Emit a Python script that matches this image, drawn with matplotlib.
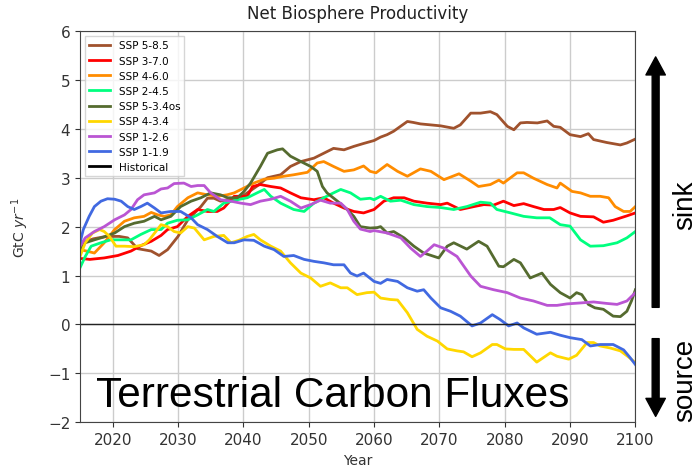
import numpy as np
import matplotlib.pyplot as plt

# scenario runs, read as (year, GtC/yr)
yr_585 = [2015, 2017, 2019, 2021, 2022.3, 2023.8, 2025.9, 2027.1, 2028.4, 2030, 2031.5, 2033.5,
          2034.5, 2035.5, 2036.5, 2037.5, 2039.6, 2040.6, 2042, 2043.7, 2045.7, 2047.2, 2048.8,
          2050.8, 2052.3, 2053.8, 2055.4, 2056.9, 2058.4, 2060, 2061, 2062, 2063, 2065.1, 2066,
          2067.1, 2070.2, 2072.2, 2073.2, 2074.8, 2076.3, 2077.8, 2078.8, 2080.4, 2081.4, 2082.4,
          2083.4, 2085, 2086.5, 2087.5, 2088.5, 2090, 2091.6, 2092.8, 2093.6, 2095.6, 2097.7,
          2098.7, 2100]
nbp_585 = [1.65, 1.75, 1.8, 1.8, 1.77, 1.55, 1.5, 1.41, 1.53, 1.8, 2.14, 2.41,
           2.58, 2.58, 2.52, 2.55, 2.6, 2.69, 2.82, 3.0, 3.06, 3.23, 3.33,
           3.4, 3.5, 3.6, 3.57, 3.64, 3.7, 3.76, 3.83, 3.88, 3.95, 4.15, 4.13,
           4.1, 4.06, 4.01, 4.08, 4.32, 4.32, 4.35, 4.29, 4.05, 3.98, 4.12,
           4.13, 4.12, 4.16, 4.05, 4.03, 3.88, 3.84, 3.9, 3.78, 3.72, 3.67,
           3.71, 3.79]

yr_370 = [2015, 2016.5, 2018.7, 2020.8, 2022.8, 2024.3, 2025.9, 2027.4, 2028.4, 2029.9, 2031.5,
          2033, 2034.5, 2036, 2037, 2038.6, 2040.6, 2041.4, 2042.6, 2044.2, 2045.7, 2047.2,
          2048.8, 2050.8, 2052.3, 2053.8, 2055.4, 2056.9, 2058.4, 2060, 2061.5, 2063, 2064.6,
          2066.1, 2068.1, 2070.2, 2071.2, 2073.2, 2075.3, 2076.8, 2078.3, 2079.8, 2081.4, 2082.9,
          2084.4, 2086, 2087.5, 2088.5, 2090, 2091.6, 2093.6, 2095.1, 2096.6, 2098.7, 2100]
nbp_370 = [1.35, 1.33, 1.36, 1.41, 1.5, 1.61, 1.7, 1.82, 1.94, 2.0, 2.21,
           2.35, 2.31, 2.31, 2.38, 2.62, 2.62, 2.82, 2.86, 2.82, 2.79, 2.69,
           2.59, 2.55, 2.59, 2.48, 2.38, 2.31, 2.28, 2.35, 2.52, 2.59, 2.59,
           2.52, 2.48, 2.45, 2.48, 2.35, 2.41, 2.45, 2.44, 2.52, 2.43, 2.47,
           2.41, 2.35, 2.35, 2.39, 2.28, 2.21, 2.2, 2.09, 2.13, 2.22, 2.28]

yr_460 = [2015, 2016, 2017.2, 2018.7, 2020.3, 2021.8, 2023.3, 2024.8, 2025.9, 2026.9, 2027.9,
          2028.9, 2029.9, 2031.5, 2033, 2034.5, 2036, 2037.5, 2038.6, 2040.1, 2041.6, 2043.2,
          2044.7, 2046.2, 2047.7, 2049.8, 2051.3, 2052.3, 2053.8, 2055.4, 2056.9, 2058.4,
          2059.4, 2060.3, 2062, 2063.6, 2065.1, 2067.1, 2068.7, 2070.7, 2073, 2074.8, 2076,
          2077.8, 2079.1, 2079.8, 2081.9, 2082.9, 2084.4, 2086.5, 2088, 2088.5, 2090.3, 2091.6,
          2093.1, 2094.6, 2095.9, 2096.9, 2098.2, 2099.2, 2100]
nbp_460 = [1.53, 1.5, 1.46, 1.67, 1.94, 2.11, 2.18, 2.21, 2.29, 2.24, 2.21,
           2.24, 2.41, 2.59, 2.69, 2.65, 2.62, 2.65, 2.69, 2.79, 2.89, 2.97,
           2.99, 3.03, 3.06, 3.11, 3.3, 3.33, 3.23, 3.13, 3.16, 3.24,
           3.13, 3.1, 3.27, 3.13, 3.03, 3.18, 3.13, 2.96, 3.08, 2.93, 2.82,
           2.86, 2.95, 2.89, 3.1, 3.1, 2.99, 2.86, 2.79, 2.89, 2.72, 2.69,
           2.62, 2.62, 2.59, 2.41, 2.31, 2.31, 2.41]

yr_245 = [2015, 2015.8, 2016.7, 2018.2, 2019.7, 2021.3, 2022.8, 2024.3, 2025.9, 2027.4, 2028.4,
          2029.9, 2031.5, 2033, 2034.5, 2035.5, 2037, 2039.1, 2040.6, 2042.1, 2043.2, 2044.2,
          2045.7, 2047.7, 2049.3, 2050.8, 2052.3, 2053.8, 2054.9, 2056.4, 2057.9, 2059.4, 2060,
          2061, 2062.5, 2064.1, 2066.1, 2068.1, 2070.2, 2072.2, 2074.2, 2076.3, 2077.8, 2078.8,
          2080.9, 2082.9, 2084.9, 2086.9, 2088.5, 2090, 2091.6, 2093.1, 2095.1, 2097.2, 2098.7,
          2100]
nbp_245 = [1.16, 1.39, 1.6, 1.67, 1.73, 1.73, 1.73, 1.84, 1.94, 1.94, 2.07,
           2.13, 2.14, 2.24, 2.35, 2.31, 2.48, 2.55, 2.59, 2.69, 2.76, 2.62,
           2.48, 2.35, 2.31, 2.48, 2.59, 2.69, 2.76, 2.69, 2.56, 2.58, 2.55,
           2.62, 2.52, 2.54, 2.45, 2.41, 2.39, 2.35, 2.41, 2.5, 2.48, 2.35,
           2.28, 2.21, 2.18, 2.18, 2.04, 2.01, 1.73, 1.6, 1.61, 1.67, 1.77,
           1.9]

yr_534os = [2015, 2015.8, 2017.2, 2018.7, 2020.3, 2021.8, 2023.3, 2024.8, 2026.4, 2027.4, 2028.9,
            2030.4, 2032, 2033.5, 2035, 2036.5, 2037.6, 2039.1, 2040.1, 2041.1, 2042.6, 2043.7,
            2045.2, 2046, 2047.2, 2048.8, 2050.3, 2051.3, 2052.1, 2052.8, 2054.4, 2055.9, 2056.9,
            2057.9, 2059.4, 2060.5, 2061, 2062, 2063, 2064.6, 2066.1, 2067.6, 2069.9, 2071.2,
            2072.2, 2074.2, 2076, 2077.3, 2079.1, 2079.8, 2081.4, 2082.4, 2083.9, 2085.7, 2087,
            2088.5, 2090, 2091, 2091.8, 2092.8, 2093.8, 2095.1, 2096.6, 2097.7, 2098.7, 2099.4,
            2100]
nbp_534os = [1.53, 1.67, 1.73, 1.79, 1.87, 2.0, 2.07, 2.11, 2.21, 2.14, 2.21,
             2.41, 2.52, 2.59, 2.69, 2.65, 2.59, 2.59, 2.72, 2.89, 3.23, 3.5,
             3.57, 3.59, 3.44, 3.33, 3.23, 3.13, 2.82, 2.69, 2.52, 2.35, 2.21,
             2.0, 1.97, 1.98, 2.0, 1.87, 1.9, 1.77, 1.6, 1.46, 1.36, 1.6,
             1.67, 1.54, 1.7, 1.6, 1.19, 1.18, 1.33, 1.26, 0.95, 1.05, 0.82,
             0.65, 0.54, 0.65, 0.61, 0.41, 0.34, 0.31, 0.17, 0.16, 0.27, 0.48,
             0.71]

yr_434 = [2015, 2015.8, 2016.9, 2018, 2018.7, 2019.5, 2020.5, 2021.8, 2023.3, 2024.8, 2025.6,
          2026.6, 2027.4, 2028.4, 2029.4, 2030.4, 2031.5, 2032.5, 2034, 2035.5, 2037, 2038.1,
          2039.3, 2040.6, 2041.6, 2042.6, 2044.2, 2045.7, 2047.2, 2048.8, 2050.3, 2051.8, 2053.3,
          2054.9, 2055.9, 2057.4, 2058.9, 2060, 2061, 2062.5, 2063.6, 2065.1, 2066.6, 2068.1,
          2069.7, 2071.2, 2072.7, 2073.7, 2075, 2076.3, 2078.1, 2078.8, 2080.1, 2081.4, 2082.9,
          2084.9, 2087, 2088, 2089.8, 2091, 2092.6, 2093.6, 2094.6, 2096.1, 2097.7, 2098.9, 2100]
nbp_434 = [1.39, 1.67, 1.87, 1.94, 1.9, 1.8, 1.6, 1.6, 1.59, 1.63, 1.73,
           1.9, 2.04, 2.0, 1.9, 1.87, 2.0, 1.97, 1.73, 1.8, 1.82, 1.67,
           1.72, 1.8, 1.84, 1.73, 1.6, 1.5, 1.26, 1.05, 0.95, 0.78, 0.85,
           0.75, 0.75, 0.61, 0.65, 0.66, 0.54, 0.51, 0.5, 0.24, -0.1, -0.24,
           -0.34, -0.5, -0.54, -0.56, -0.66, -0.58, -0.41, -0.41, -0.5, -0.51, -0.51,
           -0.77, -0.58, -0.65, -0.71, -0.63, -0.37, -0.37, -0.44, -0.48, -0.54, -0.66, -0.78]

yr_126 = [2015, 2015.8, 2017.2, 2018.7, 2020.3, 2021.8, 2022.8, 2023.8, 2024.8, 2026.4, 2027.4,
          2028.4, 2029.4, 2030.9, 2032, 2033, 2034, 2035, 2036.5, 2038.1, 2039.6, 2041.1,
          2042.6, 2044.2, 2045.7, 2047.2, 2048.8, 2050.3, 2051.8, 2053.3, 2054.9, 2055.9, 2056.9,
          2057.9, 2059.4, 2060, 2062, 2064.1, 2065.6, 2067.1, 2068.1, 2069.2, 2070.7, 2072.7,
          2074.8, 2076.3, 2078.3, 2080.4, 2082.4, 2084.4, 2086.5, 2088, 2089.5, 2091.6, 2093.6,
          2095.6, 2097.2, 2098.7, 2100]
nbp_126 = [1.6, 1.77, 1.9, 2.0, 2.14, 2.24, 2.35, 2.55, 2.65, 2.69, 2.77,
           2.79, 2.88, 2.89, 2.82, 2.84, 2.84, 2.69, 2.55, 2.52, 2.48, 2.45,
           2.52, 2.56, 2.62, 2.52, 2.38, 2.45, 2.54, 2.48, 2.48, 2.35, 2.11,
           1.95, 1.9, 1.92, 1.87, 1.77, 1.56, 1.39, 1.5, 1.63, 1.56, 1.39,
           0.99, 0.78, 0.71, 0.65, 0.54, 0.48, 0.39, 0.39, 0.42, 0.44, 0.46,
           0.43, 0.41, 0.48, 0.65]

yr_119 = [2015, 2015.5, 2016.4, 2017.2, 2018.2, 2019.2, 2020.3, 2021.3, 2022.3, 2023.3, 2024.3,
          2025.3, 2026.4, 2027.4, 2028.9, 2030.4, 2032, 2033, 2034.5, 2036, 2037.6, 2038.6,
          2040.1, 2041.6, 2043.2, 2044.7, 2046.2, 2047.7, 2049.3, 2050.8, 2052.3, 2053.8, 2055.4,
          2056.4, 2057.4, 2058.4, 2060, 2061, 2062, 2063.6, 2065.1, 2066.6, 2067.6, 2068.7,
          2070.2, 2071.7, 2073.2, 2075, 2076.3, 2078.1, 2079.3, 2080.6, 2081.9, 2082.9, 2084.9,
          2087, 2088.5, 2090, 2091.8, 2093.1, 2094.6, 2096.6, 2098.2, 2099.2, 2100]
nbp_119 = [1.67, 1.94, 2.21, 2.41, 2.52, 2.57, 2.56, 2.52, 2.41, 2.35, 2.41,
           2.48, 2.38, 2.28, 2.31, 2.31, 2.18, 2.04, 1.94, 1.8, 1.67, 1.67,
           1.73, 1.72, 1.6, 1.53, 1.39, 1.41, 1.33, 1.29, 1.26, 1.22, 1.22,
           1.05, 0.99, 1.05, 0.88, 0.84, 0.92, 0.88, 0.75, 0.68, 0.71, 0.54,
           0.34, 0.27, 0.17, -0.03, 0.03, 0.2, 0.1, -0.03, 0.03, -0.07, -0.2,
           -0.16, -0.22, -0.27, -0.31, -0.44, -0.41, -0.41, -0.52, -0.68, -0.82]

labels = ['SSP 5-8.5', 'SSP 3-7.0', 'SSP 4-6.0', 'SSP 2-4.5', 'SSP 5-3.4os',
          'SSP 4-3.4', 'SSP 1-2.6', 'SSP 1-1.9']
colors = ['sienna', 'red', 'darkorange', 'springgreen', 'darkolivegreen',
          'gold', 'mediumorchid', 'royalblue']
runs = [(yr_585, nbp_585), (yr_370, nbp_370), (yr_460, nbp_460), (yr_245, nbp_245),
        (yr_534os, nbp_534os), (yr_434, nbp_434), (yr_126, nbp_126), (yr_119, nbp_119)]

x_ticks = np.arange(2020, 2101, 10)
y_ticks = np.arange(-2, 7, 1)


def draw():
    fig = plt.figure(figsize=(6.99, 4.77), dpi=100)
    ax = fig.add_axes([0.1145, 0.1126, 0.7945, 0.8204])

    for (yr, val), lab, col in zip(runs, labels, colors):
        ax.plot(yr, val, color=col, lw=2.0, label=lab)
    ax.plot([], [], color='black', lw=2.0, label='Historical')

    ax.axhline(0, color='#222222', lw=1.0)
    ax.grid(True, color='#cccccc', lw=1.0)
    ax.set_axisbelow(True)

    ax.set_xlim(2015, 2100)
    ax.set_ylim(-2, 6)
    ax.set_xticks(x_ticks)
    ax.set_yticks(y_ticks)
    ax.tick_params(labelsize=11, colors='#333333')
    for sp in ax.spines.values():
        sp.set_color('#444444')

    ax.set_title('Net Biosphere Productivity', fontsize=12, color='#222222', pad=9)
    ax.set_xlabel('Year', fontsize=10, color='#333333')
    ax.set_ylabel('GtC $yr^{-1}$', fontsize=10, color='#333333')
    ax.yaxis.set_label_coords(-0.088, 0.5)

    ax.legend(loc='upper left', fontsize=7.5, edgecolor='#cccccc', fancybox=False)

    ax.text(2017.4, -1.67, 'Terrestrial Carbon Fluxes', fontsize=30.5,
            family='Liberation Sans', ha='left', va='baseline')

    # sink / source arrows beside the axes
    ax.annotate('', xy=(2103.1, 5.47), xytext=(2103.1, 0.35),
                arrowprops=dict(width=5, headwidth=14, headlength=13, color='black', shrink=0),
                annotation_clip=False)
    ax.annotate('', xy=(2103.1, -1.88), xytext=(2103.1, -0.29),
                arrowprops=dict(width=5, headwidth=14, headlength=13, color='black', shrink=0),
                annotation_clip=False)
    fig.text(685 / 699, 1 - 205 / 477, 'sink', rotation=90, fontsize=20,
             family='Liberation Sans', ha='center', va='center')
    fig.text(685 / 699, 1 - 380 / 477, 'source', rotation=90, fontsize=20,
             family='Liberation Sans', ha='center', va='center')

    fig.savefig('out.png', dpi=100)


if __name__ == '__main__':
    draw()
